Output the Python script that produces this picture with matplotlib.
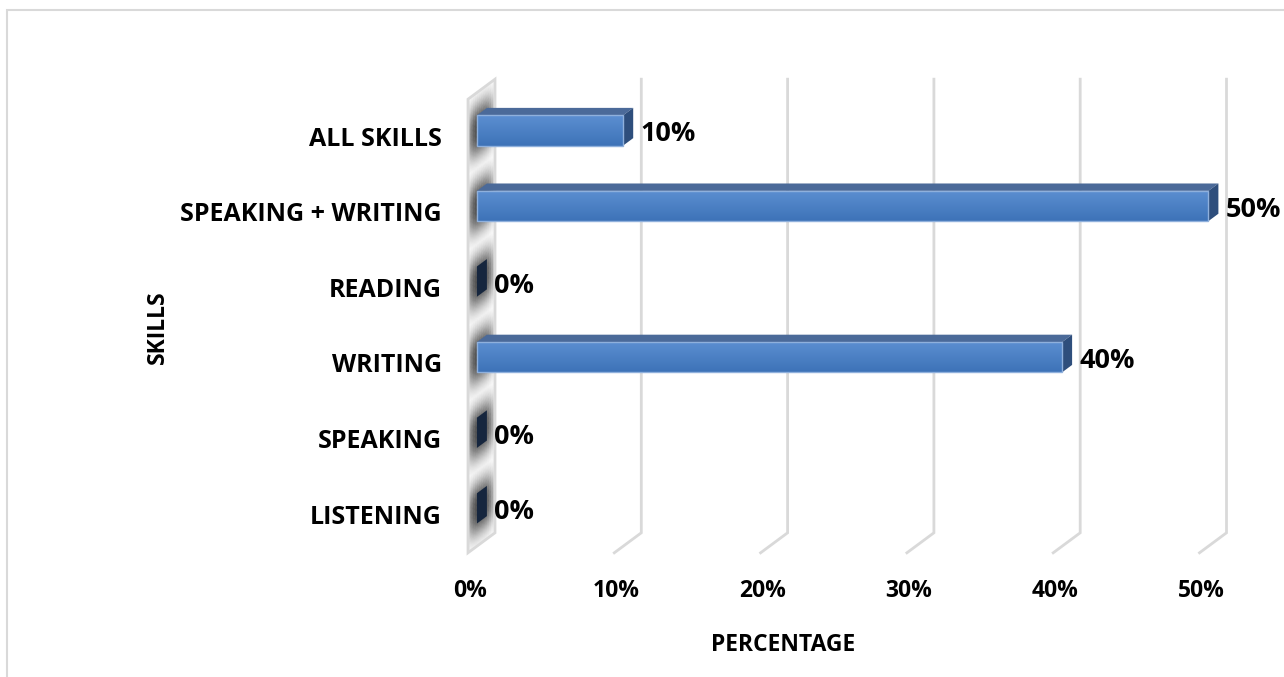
import numpy as np
import matplotlib.pyplot as plt
from matplotlib.collections import PolyCollection
from matplotlib.patches import Polygon, Rectangle

skills = ["LISTENING", "SPEAKING", "WRITING", "READING", "SPEAKING + WRITING", "ALL SKILLS"]
percent = [0, 0, 40, 0, 50, 10]
ticks = [0, 10, 20, 30, 40, 50]

plt.rcParams["font.family"] = ["Open Sans", "DejaVu Sans"]
plt.rcParams["font.weight"] = "bold"

W, H = 1284, 677
fig = plt.figure(figsize=(W / 100, H / 100), dpi=100)

# one axes over the whole canvas; x in percent, y in category index
X0, SX = 468, 14.63
Y0, SY = 515, 75.6
ax = fig.add_axes([0, 0, 1, 1])
ax.set_xlim(-X0 / SX, (W - X0) / SX)
ax.set_ylim((Y0 - H) / SY, Y0 / SY)
ax.axis("off")

# fake 3D: depth offset of the back plane
DX, DY = 27 / SX, 20 / SY
lo, hi = -0.5, len(skills) - 0.5
grid_c = "#d9d9d9"

# side wall, shaded by the soft shadows of the bars (small slanted cells)
nd, nyc = 14, 360
dd = np.linspace(0, 1, nd + 1)
yy = np.linspace(lo, hi, nyc + 1)
cells, shades = [], []
for a in range(nd):
    for b in range(nyc):
        d_a, d_b = dd[a], dd[a + 1]
        y_a, y_b = yy[b], yy[b + 1]
        cells.append([(d_a * DX, y_a + d_a * DY), (d_b * DX, y_a + d_b * DY),
                      (d_b * DX, y_b + d_b * DY), (d_a * DX, y_b + d_a * DY)])
        dm, ym = (d_a + d_b) / 2, (y_a + y_b) / 2
        k = max(np.exp(-(abs(ym - i) / 0.35) ** 2.6) for i in range(len(skills)))
        k *= np.exp(-(abs(dm - 0.48) / 0.48) ** 3)
        s = 1 - 0.72 * k
        shades.append((s, s, s))
ax.add_collection(PolyCollection(cells, facecolors=shades, edgecolors=shades,
                                 linewidths=0.3, zorder=1.5))
ax.add_patch(Polygon([(0, lo), (0, hi), (DX, hi + DY), (DX, lo + DY)], closed=True,
                     facecolor="none", edgecolor=grid_c, lw=2, zorder=2))

# gridlines: up the back plane, then across the floor to the front
for t in ticks[1:]:
    ax.plot([t + DX, t + DX, t], [hi + DY, lo + DY, lo], color=grid_c, lw=2,
            solid_joinstyle="miter", zorder=1)

# bars
d0, d1 = 0.33, 0.70
half = 0.2
for i, v in enumerate(percent):
    bx0 = d0 * DX
    by = i + d0 * DY
    ex = (d1 - d0) * DX
    ey = (d1 - d0) * DY
    if v > 0:
        grad = np.linspace(0, 1, 64).reshape(-1, 1)
        top = np.array([0.36, 0.56, 0.82])
        bot = np.array([0.24, 0.45, 0.72])
        cols = bot + (top - bot) * grad
        face = Rectangle((bx0, by - half), v, 2 * half, facecolor="none",
                         edgecolor="#8fb0dc", lw=1, zorder=3)
        ax.add_patch(face)
        g = ax.imshow(cols[:, None, :].repeat(2, axis=1),
                      extent=(bx0, bx0 + v, by - half, by + half),
                      origin="lower", aspect="auto", zorder=2.5)
        g.set_clip_path(face)
        ax.add_patch(Polygon([(bx0, by + half), (bx0 + v, by + half),
                              (bx0 + v + ex, by + half + ey), (bx0 + ex, by + half + ey)],
                             closed=True, facecolor="#4b6a99", edgecolor="none", zorder=2.6))
        side_c = "#2e4e7c"
    else:
        side_c = "#16263e"
    ax.add_patch(Polygon([(bx0 + v, by - half), (bx0 + v, by + half),
                          (bx0 + v + ex, by + half + ey), (bx0 + v + ex, by - half + ey)],
                         closed=True, facecolor=side_c, edgecolor="none", zorder=2.7))
    ax.annotate(f"{v}%", xy=(bx0 + v, by), xytext=(17, -4), textcoords="offset pixels",
                ha="left", va="center", fontsize=19.5, fontweight="bold", color="black")

# category labels
for i, name in enumerate(skills):
    ax.annotate(name, xy=(0, i), xytext=(-26, -2), textcoords="offset pixels",
                ha="right", va="center", fontsize=18, fontweight="bold", color="black")

# value axis labels along the front edge of the floor
for t in ticks:
    ax.annotate(f"{t}%", xy=(t, lo), xytext=(2, -38), textcoords="offset pixels",
                ha="center", va="center", fontsize=16.5, fontweight="bold", color="black")

fig.text(783 / W, 1 - 645 / H, "PERCENTAGE", ha="center", va="center",
         fontsize=16.5, fontweight="bold")
fig.text(158 / W, 1 - 327 / H, "SKILLS", ha="center", va="center", rotation=90,
         fontsize=16.5, fontweight="bold")

# chart area border
fig.add_artist(Rectangle((7 / W, -0.05), 1.1, 1 - 10 / H + 0.05, transform=fig.transFigure,
                         facecolor="none", edgecolor="#d9d9d9", lw=1.5))

fig.savefig("out.png", dpi=100, facecolor="white")
